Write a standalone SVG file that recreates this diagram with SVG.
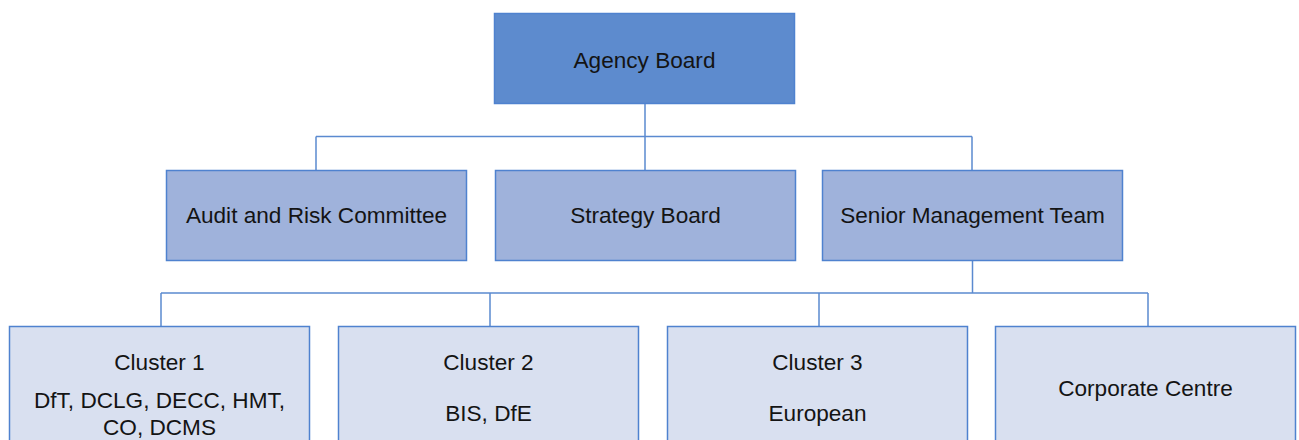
<svg xmlns="http://www.w3.org/2000/svg" width="1299" height="440" viewBox="0 0 1299 440">
<style>
.box{stroke:#4F82CF;stroke-width:1.5}
.l1{fill:#5D8BCE}
.l2{fill:#9FB2DB}
.l3{fill:#D9E0F0}
.t{font-family:"Liberation Sans",Arial,sans-serif;font-size:22.6px;fill:#141414;text-anchor:middle}
.c{fill:none;stroke:#5B8AD0;stroke-width:1.5}
</style>
<rect width="1299" height="440" fill="#ffffff"/>
<g id="connectors">
<path class="c" d="M645 104V170M316 136.5H972M316 136.5V170M972 136.5V170"/>
<path class="c" d="M972.5 260V293M161 293H1148M161 293V326M490 293V326M819 293V326M1148 293V326"/>
</g>
<g id="agency-board"><rect class="box l1" x="494.5" y="13.5" width="300" height="90"/><text class="t" x="644.5" y="68">Agency Board</text></g>
<g id="audit-risk"><rect class="box l2" x="166.5" y="170.5" width="300" height="90"/><text class="t" x="316.5" y="223">Audit and Risk Committee</text></g>
<g id="strategy-board"><rect class="box l2" x="495.5" y="170.5" width="300" height="90"/><text class="t" x="645.5" y="223">Strategy Board</text></g>
<g id="smt"><rect class="box l2" x="822.5" y="170.5" width="300" height="90"/><text class="t" x="972.5" y="223">Senior Management Team</text></g>
<g id="cluster1"><rect class="box l3" x="9.5" y="326.5" width="300" height="130"/><text class="t" x="159.5" y="370">Cluster 1</text><text class="t" x="159.5" y="408">DfT, DCLG, DECC, HMT,</text><text class="t" x="159.5" y="435">CO, DCMS</text></g>
<g id="cluster2"><rect class="box l3" x="338.5" y="326.5" width="300" height="130"/><text class="t" x="488.5" y="370">Cluster 2</text><text class="t" x="488.5" y="421">BIS, DfE</text></g>
<g id="cluster3"><rect class="box l3" x="667.5" y="326.5" width="300" height="130"/><text class="t" x="817.5" y="370">Cluster 3</text><text class="t" x="817.5" y="421">European</text></g>
<g id="corporate-centre"><rect class="box l3" x="995.5" y="326.5" width="300" height="130"/><text class="t" x="1145.5" y="396">Corporate Centre</text></g>
</svg>
